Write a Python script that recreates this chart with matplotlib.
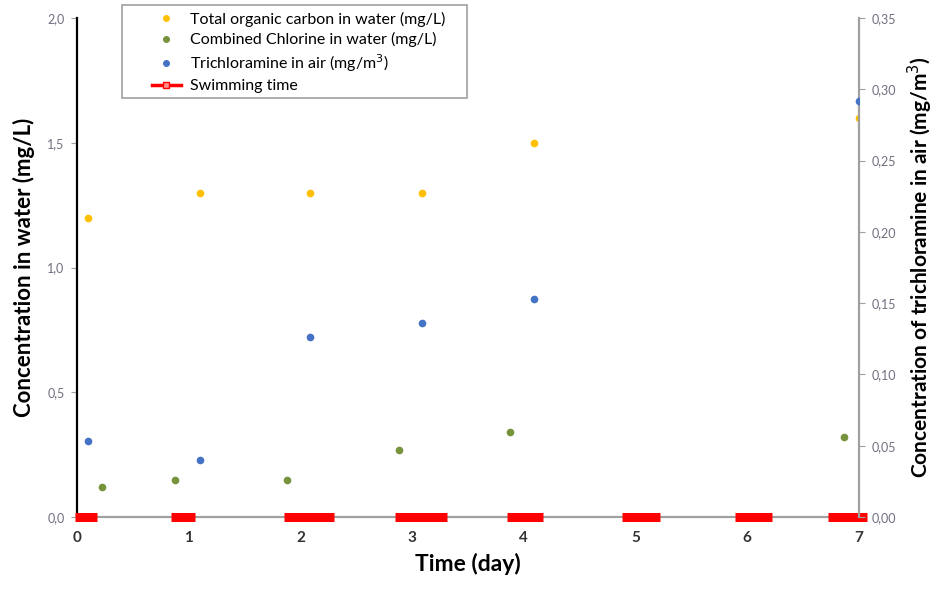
import numpy as np
import matplotlib.pyplot as plt
from matplotlib.lines import Line2D
from matplotlib.patches import Rectangle
from matplotlib.ticker import FuncFormatter

plt.rcParams['font.family'] = ['Lato', 'DejaVu Sans']

# Data
toc_day = [0.10, 1.10, 2.09, 3.09, 4.09, 7.00]
toc_val = [1.20, 1.30, 1.30, 1.30, 1.50, 1.60]          # mg/L (left axis)

cc_day = [0.22, 0.88, 1.88, 2.88, 3.88, 6.87]
cc_val = [0.12, 0.15, 0.15, 0.27, 0.34, 0.32]           # mg/L (left axis)

ncl3_day = [0.10, 1.10, 2.09, 3.09, 4.09, 7.00]
ncl3_val = [0.053, 0.040, 0.126, 0.136, 0.153, 0.292]   # mg/m3 (right axis)

swim_start = [-0.02, 0.84, 1.85, 2.85, 3.85, 4.88, 5.89, 6.72]
swim_end = [0.18, 1.06, 2.30, 3.31, 4.17, 5.22, 6.22, 7.07]

c_toc = '#FFC000'
c_cc = '#77933C'
c_ncl3 = '#4472C4'
tick_col = '#6f6f80'

fig = plt.figure(figsize=(9.36, 5.92), dpi=100)
ax = fig.add_axes([77/936, 1-517/592, 782/936, 499/592])
ax2 = ax.twinx()

ax.plot(toc_day, toc_val, 'o', color=c_toc, ms=4.5, zorder=3)
ax.plot(cc_day, cc_val, 'o', color=c_cc, ms=4.5, zorder=3)
ax2.plot(ncl3_day, ncl3_val, 'o', color=c_ncl3, ms=4.5, zorder=3)
ax.hlines([0]*len(swim_start), swim_start, swim_end, color='red', lw=6.5,
          clip_on=False, zorder=4)

ax.set_xlim(0, 7)
ax.set_ylim(0, 2.0)
ax2.set_ylim(0, 0.35)
ax.set_xticks(range(8))
ax.set_yticks(np.arange(0, 2.01, 0.5))
ax2.set_yticks(np.arange(0, 0.351, 0.05))
ax.yaxis.set_major_formatter(FuncFormatter(lambda v, p: f'{v:.1f}'.replace('.', ',')))
ax2.yaxis.set_major_formatter(FuncFormatter(lambda v, p: f'{v:.2f}'.replace('.', ',')))

for a in (ax, ax2):
    a.spines['top'].set_visible(False)
ax.spines['left'].set_color('black')
ax.spines['left'].set_linewidth(1.6)
ax.spines['right'].set_visible(False)
ax2.spines['left'].set_visible(False)
ax2.spines['right'].set_color('#a0a0a0')
ax2.spines['right'].set_linewidth(1.6)
ax2.spines['bottom'].set_visible(False)
ax.spines['bottom'].set_color('#a0a0a0')
ax.spines['bottom'].set_linewidth(1.6)

ax.tick_params(axis='y', length=4, color='#a0a0a0', labelsize=9,
               labelcolor=tick_col, pad=5)
ax2.tick_params(axis='y', length=4, color='#a0a0a0', labelsize=9,
                labelcolor=tick_col, pad=5)
ax.tick_params(axis='x', length=2, color='#a0a0a0', labelsize=11,
               labelcolor='#333333', pad=8)
for lab in ax.get_xticklabels():
    lab.set_fontweight('bold')

ax.set_xlabel('Time (day)', fontsize=16.5, fontweight='bold', labelpad=6)
ax.set_ylabel('Concentration in water (mg/L)', fontsize=16, fontweight='bold',
              labelpad=9)
ax2.set_ylabel('Concentration of trichloramine in air (mg/m$^3$)', fontsize=15,
               fontweight='bold', labelpad=7)

# legend frame drawn separately so the inner padding can match
fig.patches.append(Rectangle((122/936, 1-98/592), 345/936, 93/592,
                             transform=fig.transFigure, fill=True,
                             facecolor='white', edgecolor='#a0a0a0', lw=1.2,
                             zorder=5))

handles = [
    Line2D([], [], ls='', marker='o', ms=4, color=c_toc),
    Line2D([], [], ls='', marker='o', ms=4, color=c_cc),
    Line2D([], [], ls='', marker='o', ms=4, color=c_ncl3),
    Line2D([], [], color='red', lw=2.5, marker='s', ms=5,
           markerfacecolor='#ff9090', markeredgecolor='red'),
]
labels = ['Total organic carbon in water (mg/L)',
          'Combined Chlorine in water (mg/L)',
          'Trichloramine in air (mg/m$^3$)',
          'Swimming time']
leg = fig.legend(handles, labels, loc='upper left',
                 bbox_to_anchor=(152/936, 1-12/592), fontsize=11.5,
                 frameon=False, handlelength=1.8, labelspacing=0.32,
                 borderpad=0, handletextpad=0.6, borderaxespad=0)
leg.set_zorder(6)

fig.savefig('out.png', dpi=100)
